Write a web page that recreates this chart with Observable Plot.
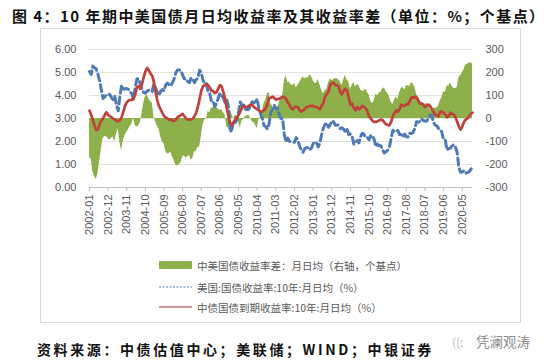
<!DOCTYPE html>
<html>
<head>
<meta charset="utf-8">
<script src="https://cdn.jsdelivr.net/npm/d3@7"></script>
<script src="https://cdn.jsdelivr.net/npm/@observablehq/plot@0.6"></script>
<style>
  html, body { margin: 0; padding: 0; background: #fff; }
  #page { position: relative; width: 546px; height: 364px; overflow: hidden; background: #fff; }
  #title { position: absolute; left: 12px; top: 5px; font-family: "Noto Sans CJK SC", sans-serif; font-weight: 700; font-size: 15px; letter-spacing: 1.45px; color: #111; white-space: nowrap; }
  #frame { position: absolute; left: 40px; top: 28px; width: 481px; height: 295px; border: 1px solid #d9d9d9; box-sizing: border-box; }
  #chart { position: absolute; left: 0; top: 28px; }
  .leg { position: absolute; left: 159px; height: 14px; display: flex; align-items: center; font-family: "Noto Sans CJK SC", sans-serif; font-size: 10.5px; color: #595959; white-space: nowrap; }
  .leg svg { margin-right: 5px; }
  #footer { position: absolute; left: 37px; top: 339px; font-family: "Noto Sans CJK SC", sans-serif; font-weight: 700; font-size: 14px; letter-spacing: 2.6px; color: #111; white-space: nowrap; }
  #mark { position: absolute; left: 452px; top: 331px; font-family: "Noto Sans CJK SC", sans-serif; font-size: 13.5px; color: #8c8c8c; white-space: nowrap; }
  #mark .icon { display: inline-block; width: 24px; font-size: 12px; color: #bbb; }
</style>
</head>
<body>
<div id="page">
  <div id="title">图 4：10 年期中美国债月日均收益率及其收益率差（单位：%；个基点）</div>
  <div id="frame"></div>
  <div id="chart"></div>
  <div class="leg" style="top:258px"><svg width="33" height="8"><rect x="0" y="0" width="33" height="8" fill="#8eb04d"></rect></svg><span id="leg1"></span></div>
  <div class="leg" style="top:280px"><svg width="33" height="8"><line x1="0" x2="33" y1="4" y2="4" stroke="#4f7bb5" stroke-width="1" stroke-dasharray="2,1.5"></line></svg><span id="leg2"></span></div>
  <div class="leg" style="top:300px"><svg width="33" height="8"><line x1="0" x2="33" y1="4" y2="4" stroke="#a0302c" stroke-width="1.2"></line></svg><span id="leg3"></span></div>
  <div id="footer">资料来源：中债估值中心；美联储；WIND；中银证券</div>
  <div id="mark"><span class="icon">((:</span>凭澜观涛</div>
</div>
<script>
// ---- data (monthly, 2002-01 .. 2020-11) ----
const startYear = 2002;
const startMonth = 0; // January

const seriesNames = [
  "中美国债收益率差：月日均（右轴，个基点）",
  "美国:国债收益率:10年:月日均（%）",
  "中债国债到期收益率:10年:月日均（%）"
];

const tickLabels = ["2002-01","2002-12","2003-11","2004-10","2005-09","2006-08","2007-07","2008-06","2009-05","2010-04","2011-03","2012-02","2013-01","2013-12","2014-11","2015-10","2016-09","2017-08","2018-07","2019-06","2020-05"];

const leftTicks = [0, 1, 2, 3, 4, 5, 6];
const rightTickLabels = ["-300", "-200", "-100", "0", "100", "200", "300"];

// US 10Y yield, monthly average (%)
const usYield = [
  5.04,4.91,5.28,5.21,5.16,4.93,4.65,4.26,3.87,3.94,4.05,4.03,
  4.05,3.90,3.81,3.96,3.57,3.33,3.98,4.45,4.27,4.29,4.30,4.27,
  4.15,4.08,3.83,4.35,4.72,4.73,4.50,4.28,4.13,4.10,4.19,4.23,
  4.22,4.17,4.50,4.34,4.14,4.00,4.18,4.26,4.20,4.46,4.54,4.47,
  4.42,4.57,4.72,4.99,5.11,5.11,5.09,4.88,4.72,4.73,4.60,4.56,
  4.76,4.72,4.56,4.69,4.75,5.10,5.00,4.67,4.52,4.53,4.15,4.10,
  3.74,3.74,3.51,3.68,3.88,4.10,4.01,3.89,3.69,3.81,3.53,2.42,
  2.52,2.87,2.82,2.93,3.29,3.72,3.56,3.59,3.40,3.39,3.40,3.59,
  3.73,3.69,3.73,3.85,3.42,3.20,3.01,2.70,2.65,2.54,2.76,3.29,
  3.39,3.58,3.41,3.46,3.17,3.00,3.00,2.30,1.98,2.15,2.01,1.98,
  1.97,1.97,2.17,2.05,1.80,1.62,1.53,1.68,1.72,1.75,1.65,1.72,
  1.91,1.98,1.96,1.76,1.93,2.30,2.58,2.74,2.81,2.62,2.72,2.90,
  2.86,2.71,2.72,2.71,2.56,2.60,2.54,2.42,2.53,2.30,2.33,2.21,
  1.88,1.98,2.04,1.94,2.20,2.36,2.32,2.17,2.17,2.07,2.26,2.24,
  2.09,1.78,1.89,1.81,1.81,1.64,1.50,1.56,1.63,1.76,2.14,2.49,
  2.43,2.42,2.48,2.30,2.30,2.19,2.32,2.21,2.20,2.36,2.35,2.40,
  2.58,2.86,2.84,2.87,2.98,2.91,2.89,2.89,3.00,3.15,3.12,2.83,
  2.71,2.68,2.57,2.53,2.40,2.07,2.06,1.63,1.70,1.71,1.81,1.86,
  1.76,1.50,0.87,0.66,0.67,0.73,0.62,0.65,0.68,0.79,0.87
];

// China 10Y government bond yield, monthly average (%)
const cnYield = [
  3.34,3.15,2.95,2.70,2.50,2.52,2.75,2.90,3.00,3.15,3.27,3.15,
  3.10,3.05,3.00,2.95,2.90,2.88,2.93,3.05,3.30,3.55,3.70,3.78,
  3.80,3.82,3.85,4.05,4.35,4.40,4.30,4.50,4.80,5.05,5.20,5.10,
  4.95,4.85,4.60,4.20,3.80,3.55,3.40,3.25,3.10,3.05,3.00,2.95,
  2.95,2.90,2.90,2.95,3.05,3.10,3.15,3.20,3.10,3.00,2.95,2.95,
  2.95,3.00,3.10,3.25,3.50,3.85,4.20,4.40,4.45,4.50,4.45,4.35,
  4.20,4.20,4.10,4.15,4.30,4.45,4.40,4.15,3.85,3.45,3.10,2.80,
  2.70,2.85,2.95,3.05,3.15,3.30,3.45,3.55,3.50,3.50,3.55,3.60,
  3.60,3.50,3.45,3.40,3.35,3.30,3.30,3.35,3.45,3.60,3.90,3.90,
  3.95,3.90,3.82,3.85,3.85,3.90,3.95,3.92,3.85,3.70,3.60,3.45,
  3.40,3.50,3.50,3.50,3.35,3.30,3.35,3.40,3.50,3.50,3.55,3.55,
  3.55,3.50,3.50,3.45,3.40,3.55,3.65,3.95,4.05,4.15,4.45,4.55,
  4.55,4.45,4.45,4.40,4.15,4.05,4.20,4.30,4.20,3.90,3.60,3.65,
  3.45,3.35,3.50,3.40,3.45,3.55,3.50,3.45,3.30,3.10,3.00,2.90,
  2.85,2.85,2.88,2.92,2.95,2.93,2.83,2.75,2.72,2.70,2.85,3.10,
  3.25,3.35,3.30,3.40,3.60,3.55,3.55,3.62,3.62,3.75,3.92,3.90,
  3.95,3.90,3.80,3.65,3.65,3.60,3.50,3.55,3.60,3.55,3.40,3.30,
  3.15,3.15,3.10,3.30,3.30,3.25,3.18,3.05,3.10,3.25,3.20,3.18,
  3.05,2.85,2.65,2.52,2.65,2.85,2.95,3.00,3.10,3.20,3.25
];

// China - US spread, monthly average (bp, right axis)
const spreadBp = [
  -170,-176,-233,-251,-266,-241,-190,-136,-87,-79,-78,-88,
  -95,-85,-81,-101,-67,-45,-105,-140,-97,-74,-60,-49,
  -35,-26,2,-30,-37,-33,-20,22,67,95,101,87,
  73,68,10,-14,-34,-45,-78,-101,-110,-141,-154,-152,
  -147,-167,-182,-204,-206,-201,-194,-168,-162,-173,-165,-161,
  -181,-172,-146,-144,-125,-125,-80,-27,-7,-3,30,25,
  46,46,59,47,42,35,39,26,16,-36,-43,38,
  18,-2,13,12,-14,-42,-11,-4,10,11,15,1,
  -13,-19,-28,-45,-7,10,29,65,80,106,114,61,
  56,32,41,39,68,90,95,162,187,155,159,147,
  143,153,133,145,155,168,182,172,178,175,190,183,
  164,152,154,169,147,125,107,121,124,153,173,165,
  169,174,173,169,159,145,166,188,167,160,127,144,
  157,137,146,146,125,119,118,128,113,103,74,66,
  76,107,99,111,114,129,133,119,109,94,71,61,
  82,93,82,110,130,136,123,141,142,139,157,150,
  137,104,96,78,67,69,61,66,60,40,28,47,
  44,47,53,77,90,118,112,142,140,154,139,132,
  129,135,178,186,198,212,233,235,242,241,238
];

document.getElementById("leg1").textContent = seriesNames[0];
document.getElementById("leg2").textContent = seriesNames[1];
document.getElementById("leg3").textContent = seriesNames[2];

const data = usYield.map((us, i) => ({
  date: new Date(Date.UTC(startYear, startMonth + i, 1)),
  us,
  cn: cnYield[i],
  spread: spreadBp[i]
}));

const tickDates = tickLabels.map(s => new Date(s + "-01T00:00:00Z"));

// right axis (bp) shares the left scale: 0 bp sits at 3.00%
const leftOfRight = v => 3 + v / 100;

const chart = Plot.plot({
  width: 546,
  height: 230,
  marginLeft: 89,
  marginRight: 74,
  marginTop: 21,
  marginBottom: 71,
  style: { fontFamily: "'Liberation Sans', Arial, sans-serif", fontSize: "11px", color: "#595959", background: "none", overflow: "visible" },
  x: { type: "utc", domain: [data[0].date, data[data.length - 1].date] },
  y: { domain: [0, 6] },
  marks: [
    Plot.gridY([1, 2, 3, 4, 5, 6], { stroke: "#d9d9d9", strokeOpacity: 1, strokeWidth: 0.8 }),
    Plot.areaY(data, { x: "date", y1: () => 3, y2: d => leftOfRight(d.spread), fill: "#8db04a" }),
    Plot.lineY(data, { x: "date", y: "us", stroke: "#4f7bb5", strokeWidth: 3, strokeDasharray: "7,4" }),
    Plot.lineY(data, { x: "date", y: "cn", stroke: "#c0403a", strokeWidth: 2.7 }),
    Plot.ruleY([0], { stroke: "#bfbfbf" }),
    Plot.axisY({ anchor: "left", ticks: leftTicks, tickFormat: d => d.toFixed(2), tickSize: 0, tickPadding: 13 }),
    Plot.axisY({ anchor: "right", ticks: leftTicks, tickFormat: (d, i) => rightTickLabels[i], tickSize: 0, tickPadding: 13 }),
    Plot.axisX({ ticks: tickDates, tickFormat: (d, i) => tickLabels[i], tickRotate: -90, tickSize: 4, tickPadding: 3, stroke: "#bfbfbf" })
  ]
});
document.getElementById("chart").appendChild(chart);
</script>
</body>
</html>
